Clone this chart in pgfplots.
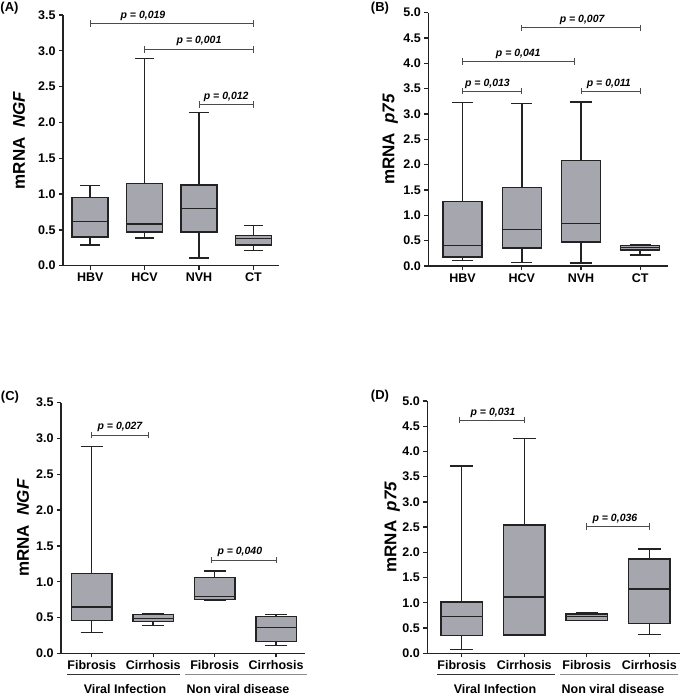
\documentclass[border=0pt]{standalone}
\usepackage{pgfplots}
\pgfplotsset{compat=1.18}
\usepgfplotslibrary{statistics}
\usepackage{fontspec}
\setmainfont{Liberation Sans}
\definecolor{boxgray}{RGB}{166,166,174}
\definecolor{lc}{RGB}{35,35,35}
\pgfplotsset{
  panel/.style={
    scale only axis,
    axis x line=bottom, axis y line=left,
    axis line style={-, line width=1.3pt, lc},
    tick style={line width=1.3pt, lc},
    tick align=outside, major tick length=4pt,
    ymin=0, xtick={1,2,3,4},
    ticklabel style={font=\bfseries\fontsize{12.5}{14}\selectfont},
    y tick label style={/pgf/number format/.cd, fixed, fixed zerofill, precision=1, assume math mode=true},
    clip=false,
    boxplot/draw direction=y,
    boxplot/box extend=0.66, boxplot/whisker extend=0.36,
    label style={font=\bfseries\fontsize{17}{20}\selectfont},
  },
  br/.style={draw=black!70, line width=0.8pt, mark=|, mark size=3.2pt, mark options={draw=black!70, line width=0.8pt}},
  bx/.style={boxplot prepared={#1}, fill=boxgray, draw=lc, line width=1.5pt},
}
\newcommand{\pv}[1]{\bfseries\itshape\fontsize{10.5}{12}\selectfont p = #1}
\begin{document}
\begin{tikzpicture}
\useasboundingbox (0pt,0pt) rectangle (682pt,696pt);
% ---------- (A)
\begin{axis}[panel, at={(63pt,430.3pt)}, anchor=south west, width=216pt, height=250.7pt,
  xmin=0.5, xmax=4.47, ymax=3.5, ytick={0,0.5,1,1.5,2,2.5,3,3.5},
  xticklabels={HBV,HCV,NVH,CT},
  ylabel={mRNA\ \ \textit{NGF}},
  ylabel style={at={([xshift=-44pt]axis description cs:0,0.5)}, anchor=center}]
\addplot[bx={draw position=1, lower whisker=0.29, lower quartile=0.40, median=0.62, upper quartile=0.95, upper whisker=1.12}] coordinates {};
\addplot[bx={draw position=2, lower whisker=0.39, lower quartile=0.47, median=0.58, upper quartile=1.15, upper whisker=2.89}] coordinates {};
\addplot[bx={draw position=3, lower whisker=0.11, lower quartile=0.47, median=0.80, upper quartile=1.13, upper whisker=2.14}] coordinates {};
\addplot[bx={draw position=4, lower whisker=0.21, lower quartile=0.29, median=0.38, upper quartile=0.42, upper whisker=0.56}] coordinates {};
\addplot[br] coordinates {(1,3.38) (4,3.38)};
\addplot[br] coordinates {(2,3.02) (4,3.02)};
\addplot[br] coordinates {(3,2.25) (4,2.25)};
\node[anchor=south, inner sep=1pt] at (axis cs:1.97,3.40) {\pv{0,019}};
\node[anchor=south, inner sep=1pt] at (axis cs:3.0,3.05) {\pv{0,001}};
\node[anchor=south, inner sep=1pt] at (axis cs:3.5,2.28) {\pv{0,012}};
\end{axis}
% ---------- (B)
\begin{axis}[panel, at={(428.3pt,430pt)}, anchor=south west, width=239.7pt, height=253.3pt,
  xmin=0.42, xmax=4.47, ymax=5, ytick={0,0.5,1,1.5,2,2.5,3,3.5,4,4.5,5},
  xticklabels={HBV,HCV,NVH,CT},
  ylabel={mRNA\ \ \textit{p75}},
  ylabel style={at={([xshift=-38pt]axis description cs:0,0.5)}, anchor=center}]
\addplot[bx={draw position=1, lower whisker=0.105, lower quartile=0.18, median=0.40, upper quartile=1.27, upper whisker=3.23}] coordinates {};
\addplot[bx={draw position=2, lower whisker=0.07, lower quartile=0.36, median=0.72, upper quartile=1.55, upper whisker=3.21}] coordinates {};
\addplot[bx={draw position=3, lower whisker=0.06, lower quartile=0.47, median=0.84, upper quartile=2.08, upper whisker=3.24}] coordinates {};
\addplot[bx={draw position=4, lower whisker=0.22, lower quartile=0.32, median=0.37, upper quartile=0.40, upper whisker=0.41}] coordinates {};
\addplot[br] coordinates {(2,4.70) (4,4.70)};
\addplot[br] coordinates {(1,4.04) (2.88,4.04)};
\addplot[br] coordinates {(1,3.45) (2,3.45)};
\addplot[br] coordinates {(3,3.45) (4,3.45)};
\node[anchor=south, inner sep=1pt] at (axis cs:3.02,4.73) {\pv{0,007}};
\node[anchor=south, inner sep=1pt] at (axis cs:1.94,4.07) {\pv{0,041}};
\node[anchor=south, inner sep=1pt] at (axis cs:1.42,3.48) {\pv{0,013}};
\node[anchor=south, inner sep=1pt] at (axis cs:3.47,3.48) {\pv{0,011}};
\end{axis}
% ---------- (C)
\begin{axis}[panel, at={(61pt,42.7pt)}, anchor=south west, width=244pt, height=250.6pt,
  xmin=0.5, xmax=4.47, ymax=3.5, ytick={0,0.5,1,1.5,2,2.5,3,3.5},
  xticklabels={Fibrosis,Cirrhosis,Fibrosis,Cirrhosis},
  ylabel={mRNA\ \ \textit{NGF}},
  ylabel style={at={([xshift=-38pt]axis description cs:0,0.5)}, anchor=center}]
\addplot[bx={draw position=1, lower whisker=0.29, lower quartile=0.456, median=0.65, upper quartile=1.117, upper whisker=2.886}] coordinates {};
\addplot[bx={draw position=2, lower whisker=0.386, lower quartile=0.447, median=0.489, upper quartile=0.545, upper whisker=0.554}] coordinates {};
\addplot[bx={draw position=3, lower whisker=0.745, lower quartile=0.754, median=0.79, upper quartile=1.06, upper whisker=1.15}] coordinates {};
\addplot[bx={draw position=4, lower whisker=0.107, lower quartile=0.163, median=0.363, upper quartile=0.512, upper whisker=0.545}] coordinates {};
\addplot[br] coordinates {(1,3.05) (1.92,3.05)};
\addplot[br] coordinates {(2.94,1.30) (4,1.30)};
\node[anchor=south, inner sep=1pt] at (axis cs:1.46,3.08) {\pv{0,027}};
\node[anchor=south, inner sep=1pt] at (axis cs:3.41,1.33) {\pv{0,040}};
\end{axis}
% ---------- (D)
\begin{axis}[panel, at={(427.3pt,42.7pt)}, anchor=south west, width=252.7pt, height=252.3pt,
  xmin=0.45, xmax=4.49, ymax=5, ytick={0,0.5,1,1.5,2,2.5,3,3.5,4,4.5,5},
  xticklabels={Fibrosis,Cirrhosis,Fibrosis,Cirrhosis},
  ylabel={mRNA\ \ \textit{p75}},
  ylabel style={at={([xshift=-35pt]axis description cs:0,0.5)}, anchor=center}]
\addplot[bx={draw position=1, lower whisker=0.079, lower quartile=0.357, median=0.733, upper quartile=1.02, upper whisker=3.71}] coordinates {};
\addplot[bx={draw position=2, lower whisker=0.363, lower quartile=0.363, median=1.116, upper quartile=2.54, upper whisker=4.26}] coordinates {};
\addplot[bx={draw position=3, lower whisker=0.654, lower quartile=0.654, median=0.727, upper quartile=0.78, upper whisker=0.806}] coordinates {};
\addplot[bx={draw position=4, lower whisker=0.37, lower quartile=0.59, median=1.27, upper quartile=1.87, upper whisker=2.07}] coordinates {};
\addplot[br] coordinates {(0.96,4.62) (2,4.62)};
\addplot[br] coordinates {(2.99,2.51) (4,2.51)};
\node[anchor=south, inner sep=1pt] at (axis cs:1.5,4.65) {\pv{0,031}};
\node[anchor=south, inner sep=1pt] at (axis cs:3.45,2.54) {\pv{0,036}};
\end{axis}
% ---------- group lines and labels
\draw[black!80, line width=0.9pt] (67pt,22pt) -- (180pt,22pt);
\draw[black!45, line width=0.9pt] (185pt,22pt) -- (307pt,22pt);
\draw[black!80, line width=0.9pt] (437pt,22pt) -- (555pt,22pt);
\draw[black!45, line width=0.9pt] (560pt,22pt) -- (678pt,22pt);
\begin{scope}[every node/.style={font=\bfseries\fontsize{12.5}{14}\selectfont, inner sep=0pt}]
\node at (125pt,6.5pt) {Viral Infection};
\node at (238pt,6.5pt) {Non viral disease};
\node at (495pt,6.5pt) {Viral Infection};
\node at (613pt,6.5pt) {Non viral disease};
\end{scope}
% ---------- panel letters
\begin{scope}[every node/.style={font=\bfseries\fontsize{13}{15}\selectfont, inner sep=0pt}]
\node at (9.5pt,688pt) {(A)};
\node at (380pt,688pt) {(B)};
\node at (10pt,299pt) {(C)};
\node at (380pt,300pt) {(D)};
\end{scope}
\end{tikzpicture}
\end{document}
